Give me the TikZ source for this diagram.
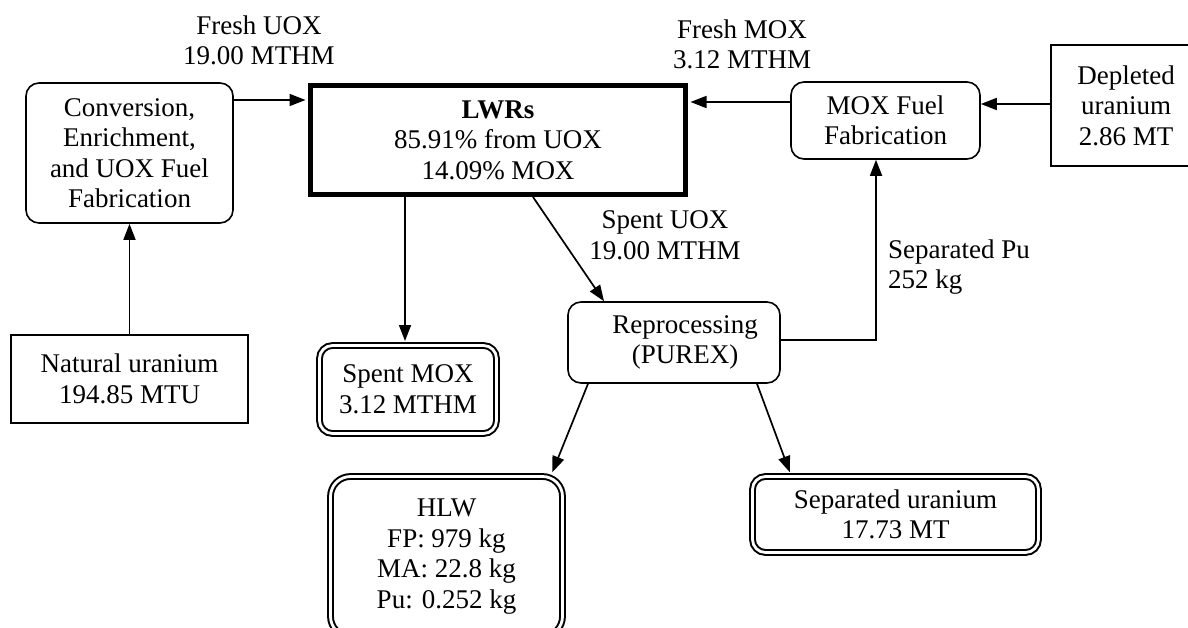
\documentclass[tikz,border=0pt]{standalone}
\usepackage{fontspec}
\setmainfont{Liberation Serif}
\usetikzlibrary{arrows.meta}
\begin{document}
\begin{tikzpicture}[x=1pt,y=-1pt,
  every node/.style={font=\fontsize{27pt}{30.5pt}\selectfont, align=center, inner sep=0pt},
  rbox/.style={draw, line width=1.6pt, rounded corners=13pt},
  sbox/.style={draw, line width=1.6pt},
  lwrbox/.style={draw, line width=5pt},
  dbox/.style={draw, double, double distance=2.8pt, line width=2pt, rounded corners=13pt},
  arr/.style={line width=1.7pt, -{Triangle[length=16pt,width=12pt]}}
]
\useasboundingbox (0,0) rectangle (1188,628);
\fill[white] (0,0) rectangle (1188,628);
\clip (0,0) rectangle (1188,628);

\node[rbox, minimum width=207pt, minimum height=140pt] (conv) at (129.5,153) {Conversion,\\Enrichment,\\and UOX Fuel\\Fabrication};
\node[lwrbox, minimum width=375pt, minimum height=109pt] (lwr) at (498,140) {\textbf{LWRs}\\85.91\% from UOX\\14.09\% MOX};
\node[rbox, minimum width=189pt, minimum height=77pt] (mox) at (885.5,120.5) {MOX Fuel\\Fabrication};
\node[sbox, minimum width=150pt, minimum height=121pt] (dep) at (1126,105.5) {Depleted\\uranium\\2.86 MT};
\node[sbox, minimum width=237pt, minimum height=88pt] (nat) at (129.5,379) {Natural uranium\\194.85 MTU};
\node[dbox, minimum width=177pt, minimum height=88pt] (smox) at (408,389.5) {Spent MOX\\3.12 MTHM};
\node[rbox, minimum width=212pt, minimum height=81pt] (reproc) at (674,342.5) {\hspace*{22pt}Reprocessing\\\hspace*{22pt}(PUREX)};
\node[dbox, rounded corners=20pt, minimum width=232pt, minimum height=160pt] (hlw) at (446.5,556.5) {HLW\\FP: 979 kg\\MA: 22.8 kg\\Pu: 0.252 kg};
\node[dbox, minimum width=286pt, minimum height=76pt] (sepu) at (895.5,514.5) {Separated uranium\\17.73 MT};

\node (fuox) at (259,40.5) {Fresh UOX\\19.00 MTHM};
\node (fmox) at (742,44.5) {Fresh MOX\\3.12 MTHM};
\node (suox) at (665,235.5) {Spent UOX\\19.00 MTHM};
\node[anchor=west, align=left] (spu) at (888,267) {Separated Pu\\252 kg};

\draw[arr, shorten >=2.5pt] (conv.east |- 0,100) -- (lwr.west |- 0,100);
\draw[arr] (nat.north) -- (conv.south);
\draw[arr, shorten >=2.5pt] (mox.west |- 0,102) -- (lwr.east |- 0,102);
\draw[arr] (dep.west |- 0,104) -- (mox.east |- 0,104);
\draw[arr, shorten >=3.5pt] (lwr.south -| 405,0) -- (smox.north -| 405,0);
\draw[arr] (lwr.south -| 533,0) -- (reproc.north -| 604,0);
\draw[arr] (reproc.east |- 0,340) -| (mox.south -| 876,0);
\draw[arr, shorten >=3.5pt] (reproc.south -| 588,0) -- (hlw.north -| 551,0);
\draw[arr, shorten >=3.5pt] (reproc.south -| 757,0) -- (sepu.north -| 791,0);
\end{tikzpicture}
\end{document}
